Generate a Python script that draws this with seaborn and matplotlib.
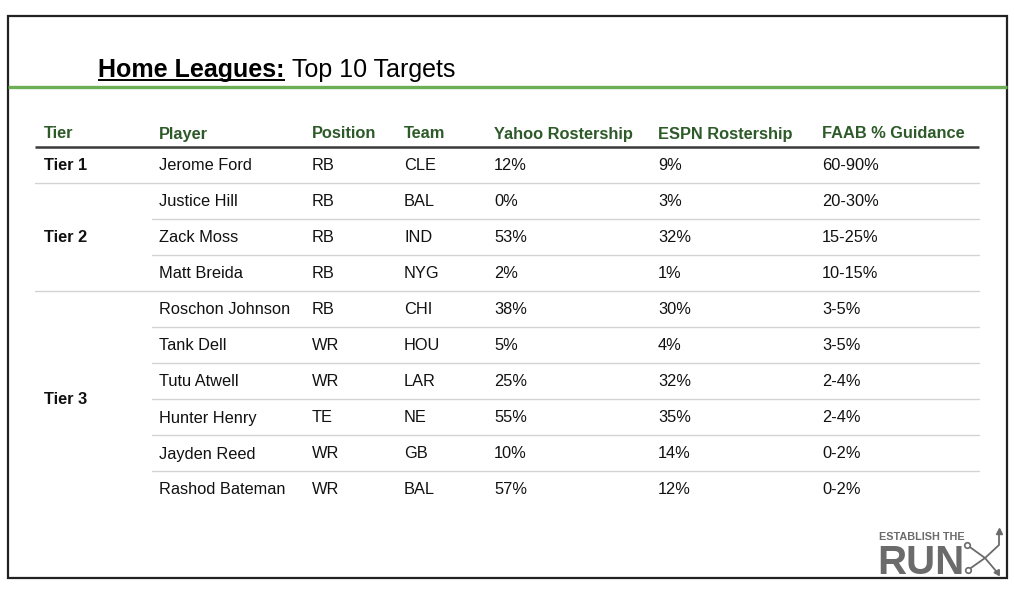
import numpy as np
import pandas as pd
import matplotlib.pyplot as plt
import seaborn as sns

# Table data
headers = ["Tier", "Player", "Position", "Team", "Yahoo Rostership", "ESPN Rostership", "FAAB % Guidance"]
tiers = ["Tier 1", "Tier 2", "Tier 2", "Tier 2", "Tier 3", "Tier 3", "Tier 3", "Tier 3", "Tier 3", "Tier 3"]
players = ["Jerome Ford", "Justice Hill", "Zack Moss", "Matt Breida", "Roschon Johnson",
           "Tank Dell", "Tutu Atwell", "Hunter Henry", "Jayden Reed", "Rashod Bateman"]
positions = ["RB", "RB", "RB", "RB", "RB", "WR", "WR", "TE", "WR", "WR"]
teams = ["CLE", "BAL", "IND", "NYG", "CHI", "HOU", "LAR", "NE", "GB", "BAL"]
yahoo_pct = [12, 0, 53, 2, 38, 5, 25, 55, 10, 57]
espn_pct = [9, 3, 32, 1, 30, 4, 32, 35, 14, 12]
faab = ["60-90%", "20-30%", "15-25%", "10-15%", "3-5%", "3-5%", "2-4%", "2-4%", "0-2%", "0-2%"]

df = pd.DataFrame({
    "Tier": tiers, "Player": players, "Position": positions, "Team": teams,
    "Yahoo Rostership": [f"{v}%" for v in yahoo_pct],
    "ESPN Rostership": [f"{v}%" for v in espn_pct],
    "FAAB % Guidance": faab,
})

sns.set_theme(style="white")
plt.rcParams['font.family'] = ['Liberation Sans', 'DejaVu Sans']

header_green = "#2E5A2A"
line_green = "#6DAF55"
logo_gray = "#6B6B6B"
fs = 11.8

fig = plt.figure(figsize=(10.14, 5.96), dpi=100)
ax = fig.add_axes([0, 0, 1, 1])
ax.set_xlim(0, 1014)
ax.set_ylim(596, 0)
ax.axis("off")

# slide border
ax.add_patch(plt.Rectangle((7.5, 15.5), 999.5, 562.5, fill=False, ec="#222222", lw=1.6))

# title with underlined first part
renderer = fig.canvas.get_renderer()
t1 = ax.text(98, 77.5, "Home Leagues:", fontsize=18, fontweight="bold", va="baseline", color="black")
bb = t1.get_window_extent(renderer).transformed(ax.transData.inverted())
x0, x1 = min(bb.x0, bb.x1), max(bb.x0, bb.x1)
ax.plot([x0, x1], [80, 80], color="black", lw=1.4, solid_capstyle="butt")
ax.text(x1 + 7, 77.5, "Top 10 Targets", fontsize=18, va="baseline", color="black")

# green rule
ax.plot([7.5, 1007], [87, 87], color=line_green, lw=2.4, solid_capstyle="butt")

# columns
col_x = [44, 159, 312, 404, 494, 658, 822]
top = 147
row_h = 36
left, right = 35, 979
base_off = 5.5  # baseline below row centre

for x, h in zip(col_x, headers):
    ax.text(x, 133 + base_off, h, fontsize=fs, fontweight="bold", color=header_green, va="baseline")
ax.plot([left, right], [top, top], color="#3A3A3A", lw=1.8, solid_capstyle="butt")

n = len(df)
for i in range(n):
    yc = top + row_h * (i + 0.5)
    for x, col in zip(col_x[1:], headers[1:]):
        ax.text(x, yc + base_off, df[col].iloc[i], fontsize=fs, color="#111111", va="baseline")
    if i < n - 1:
        yl = top + row_h * (i + 1)
        new_tier = df["Tier"].iloc[i + 1] != df["Tier"].iloc[i]
        ax.plot([left if new_tier else 152, right], [yl, yl], color="#D3D3D3", lw=1.0)

# tier labels centred on their group
for tier, grp in df.groupby("Tier", sort=False):
    idx = grp.index.to_numpy()
    yc = top + row_h * ((idx.min() + idx.max()) / 2 + 0.5)
    ax.text(col_x[0], yc + base_off, tier, fontsize=fs, fontweight="bold", color="#111111", va="baseline")

# logo
ax.text(879, 540, "ESTABLISH THE", fontsize=7.8, fontweight="bold", color=logo_gray, va="baseline")
ax.text(877, 574, "RUN", fontsize=29, fontweight="bold", color=logo_gray, va="baseline")
ax.plot([967, 985, 999, 999], [545, 558, 545, 533], color=logo_gray, lw=1.3)
ax.plot([968, 985, 996], [570, 558, 571], color=logo_gray, lw=1.3)
ax.plot([967, 968], [545, 570], "o", ms=4, mfc="white", mec=logo_gray, mew=1.2)
ax.plot(999, 531, marker="^", ms=5, color=logo_gray)
ax.plot(997, 572, marker=(3, 0, 210), ms=5, color=logo_gray)

fig.savefig("out.png", dpi=100, facecolor="white")
